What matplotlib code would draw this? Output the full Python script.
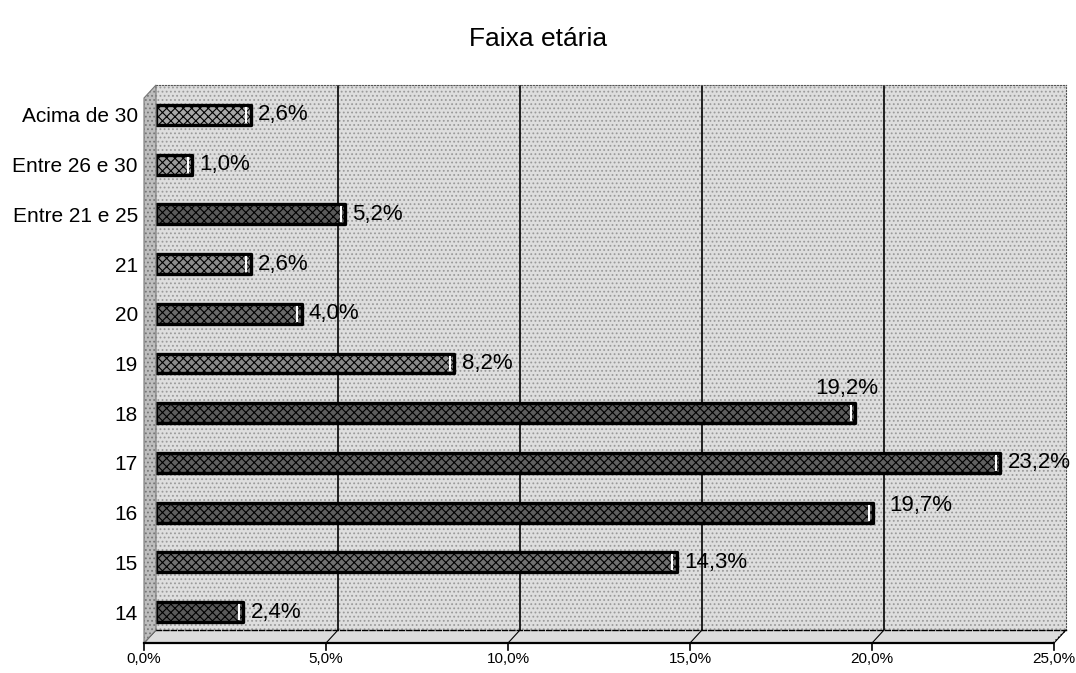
import numpy as np
import matplotlib.pyplot as plt
from matplotlib.patches import Polygon
from matplotlib.lines import Line2D
from matplotlib.transforms import ScaledTranslation

plt.rcParams['font.family'] = ['Liberation Sans', 'DejaVu Sans']
plt.rcParams['hatch.linewidth'] = 0.8

# Data (bottom to top)
categories = ['14', '15', '16', '17', '18', '19', '20', '21',
              'Entre 21 e 25', 'Entre 26 e 30', 'Acima de 30']
values = [2.4, 14.3, 19.7, 23.2, 19.2, 8.2, 4.0, 2.6, 5.2, 1.0, 2.6]
xticks = [0, 5, 10, 15, 20, 25]
xtick_labels = ['0,0%', '5,0%', '10,0%', '15,0%', '20,0%', '25,0%']

bar_colors = ['#5a5a5a', '#707070', '#5e5e5e', '#606060', '#5c5c5c', '#8a8a8a',
              '#6a6a6a', '#8c8c8c', '#5a5a5a', '#9a9a9a', '#a8a8a8']

W, H = 1076, 673


def px(x, y):
    return x / W, 1 - y / H


fig = plt.figure(figsize=(W / 100, H / 100), dpi=100)
ax = fig.add_axes([156 / W, 1 - 630 / H, 910 / W, 545 / H])

# back wall
ax.set_facecolor('#e8e8e8')
bg = plt.Rectangle((0, 0), 1, 1, transform=ax.transAxes, facecolor='#dedede',
                   edgecolor='#9a9a9a', hatch='....', lw=0, zorder=0)
ax.add_patch(bg)

y = np.arange(len(categories))
bars = ax.barh(y, values, height=0.40, color=bar_colors, edgecolor='black',
               linewidth=2.4, hatch='xxxx', zorder=3)
for b in bars:
    b.set_joinstyle('round')
# end caps of the cylinders
for i, v in enumerate(values):
    ax.plot([v - 0.12, v - 0.12], [i - 0.14, i + 0.14], color='white', lw=1.5, zorder=4)

ax.set_xlim(0, 25)
ax.set_ylim(-0.36, 10.6)

# grid on back wall
for v in xticks[1:-1]:
    ax.axvline(v, color='black', lw=1.2, zorder=1)

# value labels
for i, v in enumerate(values):
    txt = f'{v:.1f}%'.replace('.', ',')
    if categories[i] == '18':
        ax.text(v - 1.1, i + 0.5, txt, va='center', ha='left', fontsize=16, zorder=5)
    elif categories[i] == '16':
        ax.text(v + 0.45, i + 0.15, txt, va='center', ha='left', fontsize=16, zorder=5)
    else:
        ax.text(v + 0.2, i, txt, va='center', ha='left', fontsize=16, zorder=5)

ax.set_yticks(y)
ax.set_yticklabels(categories, fontsize=15)
ax.tick_params(axis='y', length=0, pad=13)

ax.set_xticks(xticks)
ax.set_xticklabels(xtick_labels, fontsize=11)
ax.tick_params(axis='x', length=0, pad=16)
offset = ScaledTranslation(-12 / 100, 0, fig.dpi_scale_trans)
for lbl in ax.get_xticklabels():
    lbl.set_transform(lbl.get_transform() + offset)

for side in ['top', 'right']:
    ax.spines[side].set_linestyle(':')
    ax.spines[side].set_color('#555555')
ax.spines['left'].set_visible(False)
ax.spines['bottom'].set_linestyle('--')
ax.spines['bottom'].set_linewidth(1)

# floor and left wall
floor = Polygon([px(144, 643), px(1053, 643), px(1066, 630), px(156, 630)],
                closed=True, transform=fig.transFigure, facecolor='#dcdcdc',
                edgecolor='none', hatch='....', zorder=0)
fig.add_artist(floor)
wall = Polygon([px(144, 643), px(156, 630), px(156, 85), px(144, 98)],
               closed=True, transform=fig.transFigure, facecolor='#bdbdbd',
               edgecolor='#777777', lw=0.8, hatch='....')
fig.add_artist(wall)
fig.add_artist(Line2D([px(144, 643)[0], px(1053, 643)[0]], [px(144, 643)[1]] * 2,
                      transform=fig.transFigure, color='black', lw=1.6))
fig.add_artist(Line2D([px(1053, 643)[0], px(1066, 630)[0]],
                      [px(1053, 643)[1], px(1066, 630)[1]],
                      transform=fig.transFigure, color='black', lw=1, ls=':'))

# tick marks and floor grid lines
xtr = ax.get_xaxis_transform()
for v in xticks:
    ax.plot([v, v], [-0.024, -0.036], transform=xtr + offset, color='black',
            lw=1.2, clip_on=False)
    ax.plot([v, v - 0.33], [0, -0.024], transform=xtr, color='black',
            lw=0.8, clip_on=False)

fig.suptitle('Faixa etária', fontsize=19, y=0.96)

fig.savefig('out.png', dpi=100)
